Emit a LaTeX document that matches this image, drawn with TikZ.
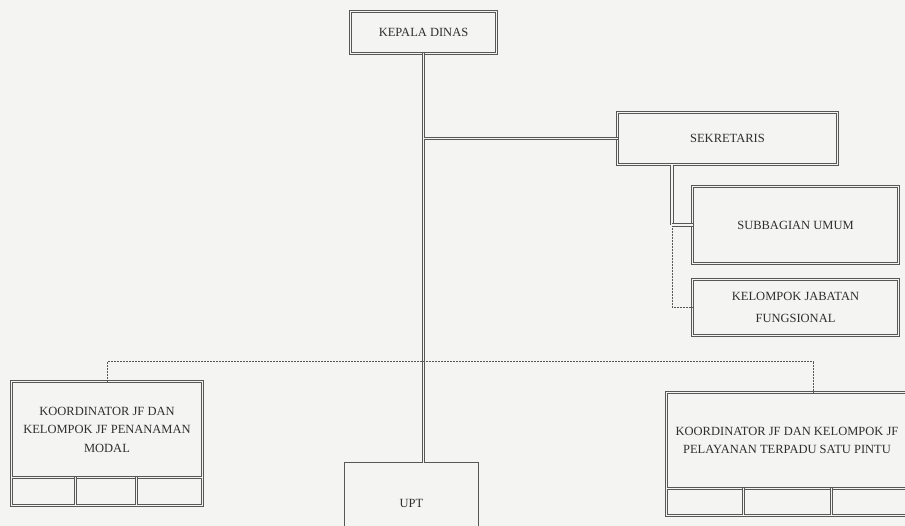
\documentclass[tikz,border=0pt]{standalone}
\usepackage{fontspec}
\setmainfont{Liberation Serif}
\definecolor{ln}{HTML}{575757}
\definecolor{bg}{HTML}{F4F4F2}
\definecolor{tx}{HTML}{2E2E2E}
\begin{document}
\begin{tikzpicture}[x=1pt,y=-1pt,
  dbl/.style={draw=ln, line width=0.9pt, double=bg, double distance=1.3pt},
  sgl/.style={draw=ln, line width=0.9pt},
  dsh/.style={draw=ln, line width=0.7pt, dash pattern=on 2pt off 1pt},
  boxtext/.style={rectangle, inner sep=0pt, align=center, text=tx,
    font=\fontsize{12.5}{18.5}\selectfont}]
\fill[bg] (0,0) rectangle (905,526);
\useasboundingbox (0,0) rectangle (905,526);
\clip (0,0) rectangle (905,526);

% nodes
\node[boxtext, minimum width=145pt, minimum height=41pt] (kd) at (423.5,32.5) {KEPALA DINAS};
\node[boxtext, minimum width=219pt, minimum height=52pt] (sek) at (727.5,138.5) {SEKRETARIS};
\node[boxtext, minimum width=205pt, minimum height=76pt] (sub) at (795.5,225) {SUBBAGIAN UMUM};
\node[boxtext, minimum width=205pt, minimum height=56pt, font=\fontsize{12.5}{22}\selectfont] (kjf) at (795.5,307.5) {KELOMPOK JABATAN\\FUNGSIONAL};
\node[boxtext, minimum width=190pt, minimum height=95pt] (kpm) at (107,429.5) {KOORDINATOR JF DAN\\KELOMPOK JF PENANAMAN\\MODAL};
\node[boxtext, minimum width=240pt, minimum height=95pt] (kpt) at (787,440.5) {KOORDINATOR JF DAN KELOMPOK JF\\PELAYANAN TERPADU SATU PINTU};
\node[boxtext, minimum width=133pt, minimum height=80pt] (upt) at (411.5,503) {UPT};

% frames
\draw[dbl] (kd.north west) rectangle (kd.south east);
\draw[dbl] (sek.north west) rectangle (sek.south east);
\draw[dbl] (sub.north west) rectangle (sub.south east);
\draw[dbl] (kjf.north west) rectangle (kjf.south east);
\draw[sgl] (upt.north west) rectangle (upt.south east);

% frames with bottom cell rows
\draw[dbl] (kpm.north west) rectangle ([yshift=-28pt]kpm.south east);
\draw[dbl] (kpm.south west) -- (kpm.south east);
\draw[dbl] ([xshift=64pt]kpm.south west) -- ++(0,28);
\draw[dbl] ([xshift=125pt]kpm.south west) -- ++(0,28);

\draw[dbl] (kpt.north west) rectangle ([yshift=-27pt]kpt.south east);
\draw[dbl] (kpt.south west) -- (kpt.south east);
\draw[dbl] ([xshift=77pt]kpt.south west) -- ++(0,27);
\draw[dbl] ([xshift=165pt]kpt.south west) -- ++(0,27);

% connectors
\draw[dbl] (kd.south) -- (kd.south |- upt.north);
\draw[dbl] (kd.south |- sek.west) -- (sek.west);
\coordinate (sb) at ([xshift=-55.5pt]sek.south);
\coordinate (sbm) at (sb |- sub.west);
\draw[dsh] (sbm) |- (kjf.west);
\draw[dbl] (sb) -- (sbm);
\draw[dbl] (sbm) -- (sub.west);
\coordinate (kptdrop) at ([xshift=26pt]kpt.north);
\draw[dsh] (kpm.north) -- ++(0,-20) -| (kptdrop);
\end{tikzpicture}
\end{document}
